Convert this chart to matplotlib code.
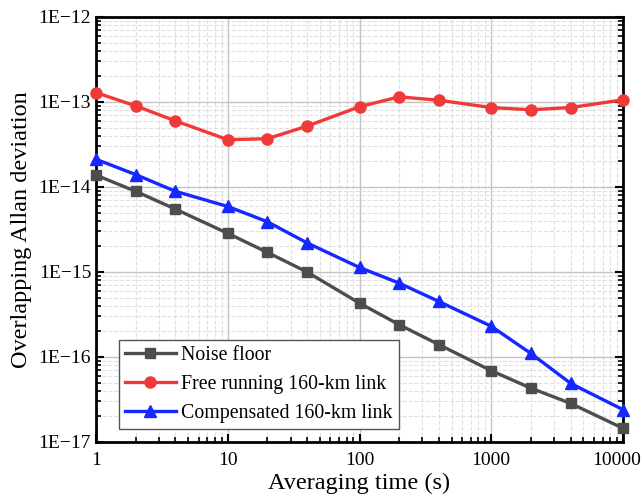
import numpy as np
import matplotlib
matplotlib.use("Agg")
import matplotlib.pyplot as plt
import matplotlib.transforms as mtransforms
from matplotlib.ticker import LogLocator, FixedLocator, FuncFormatter, NullFormatter

plt.rcParams['font.family'] = ['Liberation Serif', 'DejaVu Serif']

# averaging times (s)
tau = [1, 2, 4, 10, 20, 40, 100, 200, 400, 1000, 2000, 4000, 10000]

noise_floor = [1.38e-14, 8.9e-15, 5.5e-15, 2.85e-15, 1.7e-15, 1.0e-15, 4.3e-16,
               2.4e-16, 1.4e-16, 6.9e-17, 4.3e-17, 2.85e-17, 1.45e-17]
free_running = [1.29e-13, 9.0e-14, 6.0e-14, 3.6e-14, 3.7e-14, 5.2e-14, 8.8e-14,
                1.15e-13, 1.05e-13, 8.6e-14, 8.1e-14, 8.6e-14, 1.06e-13]
compensated = [2.12e-14, 1.4e-14, 8.9e-15, 5.9e-15, 3.9e-15, 2.2e-15, 1.13e-15,
               7.4e-16, 4.5e-16, 2.3e-16, 1.1e-16, 4.9e-17, 2.4e-17]

labels = ['Noise floor', 'Free running 160-km link', 'Compensated 160-km link']
colors = ['#4d4d4d', '#f03a3a', '#1428ff']
markers = ['s', 'o', '^']
msizes = [7.5, 8, 8]

fig = plt.figure(figsize=(6.43, 5.04), dpi=100)
ax = fig.add_axes([96 / 643, 1 - 442 / 504, 527 / 643, 425 / 504])

for y, lab, c, m, ms in zip([noise_floor, free_running, compensated], labels, colors, markers, msizes):
    ax.plot(tau, y, color=c, marker=m, markersize=ms, linewidth=2.4, label=lab,
            zorder=3, clip_on=False)

ax.set_xscale('log')
ax.set_yscale('log')
ax.set_xlim(1, 10000)
ax.set_ylim(1e-17, 1e-12)

ax.xaxis.set_major_locator(FixedLocator([1, 10, 100, 1000, 10000]))
ax.xaxis.set_major_formatter(FuncFormatter(lambda v, p: f"{int(round(v))}"))
ax.xaxis.set_minor_locator(LogLocator(base=10, subs=np.arange(2, 10), numticks=20))
ax.xaxis.set_minor_formatter(NullFormatter())

ax.yaxis.set_major_locator(FixedLocator([1e-17, 1e-16, 1e-15, 1e-14, 1e-13, 1e-12]))
ax.yaxis.set_major_formatter(FuncFormatter(lambda v, p: f"1E\u2212{int(round(-np.log10(v)))}"))
ax.yaxis.set_minor_locator(LogLocator(base=10, subs=np.arange(2, 10), numticks=20))
ax.yaxis.set_minor_formatter(NullFormatter())

ax.grid(True, which='major', color='#c4c4c4', linewidth=1.0, linestyle='-')
ax.grid(True, which='minor', color='#e0e0e0', linewidth=0.8, linestyle='--')
ax.set_axisbelow(True)

for s in ax.spines.values():
    s.set_linewidth(2.0)

ax.tick_params(which='major', direction='in', length=6, width=1.5, labelsize=14,
               left=True, right=True, bottom=True, top=False)
ax.tick_params(which='minor', direction='in', length=3.5, width=1.2,
               left=True, right=True, bottom=True, top=False)
ax.tick_params(axis='x', pad=7)

ax.set_xlabel('Averaging time (s)', fontsize=17.5, labelpad=3)
ax.set_ylabel('Overlapping Allan deviation', fontsize=17.5, labelpad=5)

# keep the last x tick label inside the figure, like the reference
fig.canvas.draw()
last = ax.get_xticklabels()[-1]
last.set_transform(last.get_transform() +
                   mtransforms.ScaledTranslation(-6 / 100, 0, fig.dpi_scale_trans))

leg = ax.legend(loc='lower left', bbox_to_anchor=(0.043, 0.03), fontsize=14.3,
                frameon=True, fancybox=False, edgecolor='#555555', framealpha=1,
                handlelength=2.6, borderpad=0.3, labelspacing=0.5, handletextpad=0.25,
                borderaxespad=0)
leg.get_frame().set_linewidth(1.0)

fig.savefig('out.png', dpi=100)
